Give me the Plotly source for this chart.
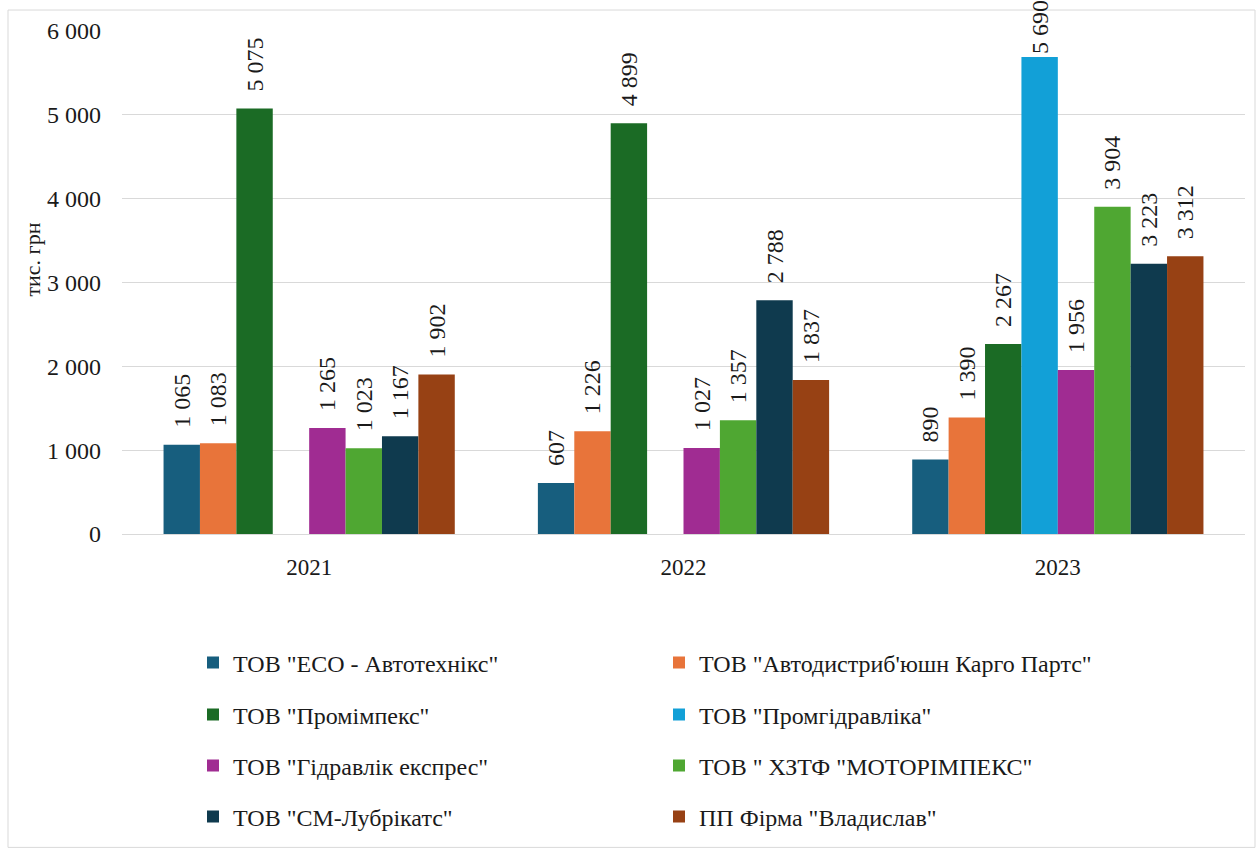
import plotly.graph_objects as go

years = ["2021", "2022", "2023"]
eco = [1065, 607, 890]
avtodistr = [1083, 1226, 1390]
promimpeks = [5075, 4899, 2267]
promgidravlika = [None, None, 5690]
gidravlik = [1265, 1027, 1956]
motorimpeks = [1023, 1357, 3904]
sm_lubr = [1167, 2788, 3223]
vladyslav = [1902, 1837, 3312]

names = [
    'ТОВ "ЕСО - Автотехнікс"',
    'ТОВ "Автодистриб\'юшн Карго Партс"',
    'ТОВ "Промімпекс"',
    'ТОВ "Промгідравліка"',
    'ТОВ "Гідравлік експрес"',
    'ТОВ " ХЗТФ "МОТОРІМПЕКС"',
    'ТОВ "СМ-Лубрікатс"',
    'ПП Фірма "Владислав"',
]
series = [eco, avtodistr, promimpeks, promgidravlika, gidravlik, motorimpeks, sm_lubr, vladyslav]
colors = ["#175E7E", "#E8743A", "#1B6B25", "#12A0D7", "#A02C92", "#4FA732", "#0F3A4E", "#974114"]
y_title = "тис. грн"

FONT = "Liberation Serif"
W, H = 1260, 850
ML, MR, MT, MB = 122, 15, 31, 315
PW = W - ML - MR
PH = H - MT - MB

fig = go.Figure()
legend_ids = ["legend", "legend2", "legend3", "legend4"]
pad_tpl = "\u00a0\u00a0\u200a%{y:,d}"
for i, (nm, vals, col) in enumerate(zip(names, series, colors)):
    # tallest bar: no extra gap so the label stays inside the figure
    tpl = [("%{y:,d}" if (v is not None and v > 5500) else pad_tpl) for v in vals]
    fig.add_trace(go.Bar(
        x=years, y=vals, name=nm,
        marker=dict(color=col, line=dict(width=0)),
        texttemplate=tpl,
        textposition="outside",
        textangle=-90,
        constraintext="none",
        textfont=dict(family=FONT, size=24, color="#1a1a1a"),
        cliponaxis=False,
        legend=legend_ids[i // 2],
    ))

def py(pix):
    return (H - MB - pix) / PH

def px(pix):
    return (pix - ML) / PW

row_y = [663, 715, 766, 817]
layout_legends = {}
for lid, ry in zip(legend_ids, row_y):
    layout_legends[lid] = dict(
        orientation="h", entrywidth=421, entrywidthmode="pixels",
        font=dict(family=FONT, size=24, color="#1a1a1a"),
        xanchor="left", yanchor="middle", bgcolor="rgba(0,0,0,0)",
        itemclick=False, itemdoubleclick=False,
        x=px(193), y=py(ry),
    )

fig.update_layout(
    width=W, height=H,
    margin=dict(l=ML, r=MR, t=MT, b=MB),
    paper_bgcolor="white", plot_bgcolor="white",
    separators=", ",
    barmode="group", bargap=0.222, bargroupgap=0,
    font=dict(family=FONT, color="#1a1a1a"),
    showlegend=True,
    **layout_legends,
)
fig.update_yaxes(
    range=[0, 6000], dtick=1000, tickformat=",d",
    showgrid=True, gridcolor="#d9d9d9", gridwidth=1,
    zeroline=False, showline=False,
    tickfont=dict(family=FONT, size=24, color="#1a1a1a"),
    ticklabelstandoff=20,
)
fig.update_xaxes(
    showgrid=False, showline=True, linecolor="#d9d9d9", linewidth=1,
    ticks="", tickfont=dict(family=FONT, size=23, color="#1a1a1a"),
    ticklabelstandoff=12,
)
fig.add_annotation(
    text=y_title, textangle=-90, showarrow=False,
    xref="paper", yref="paper", x=px(33), y=py(260),
    xanchor="center", yanchor="middle",
    font=dict(family=FONT, size=22, color="#1a1a1a"),
)
fig.add_shape(
    type="rect", xref="paper", yref="paper",
    x0=px(8), x1=px(1255), y0=py(849), y1=py(10),
    line=dict(color="#d9d9d9", width=1), fillcolor="rgba(0,0,0,0)", layer="below",
)
fig.write_html("out.html")
